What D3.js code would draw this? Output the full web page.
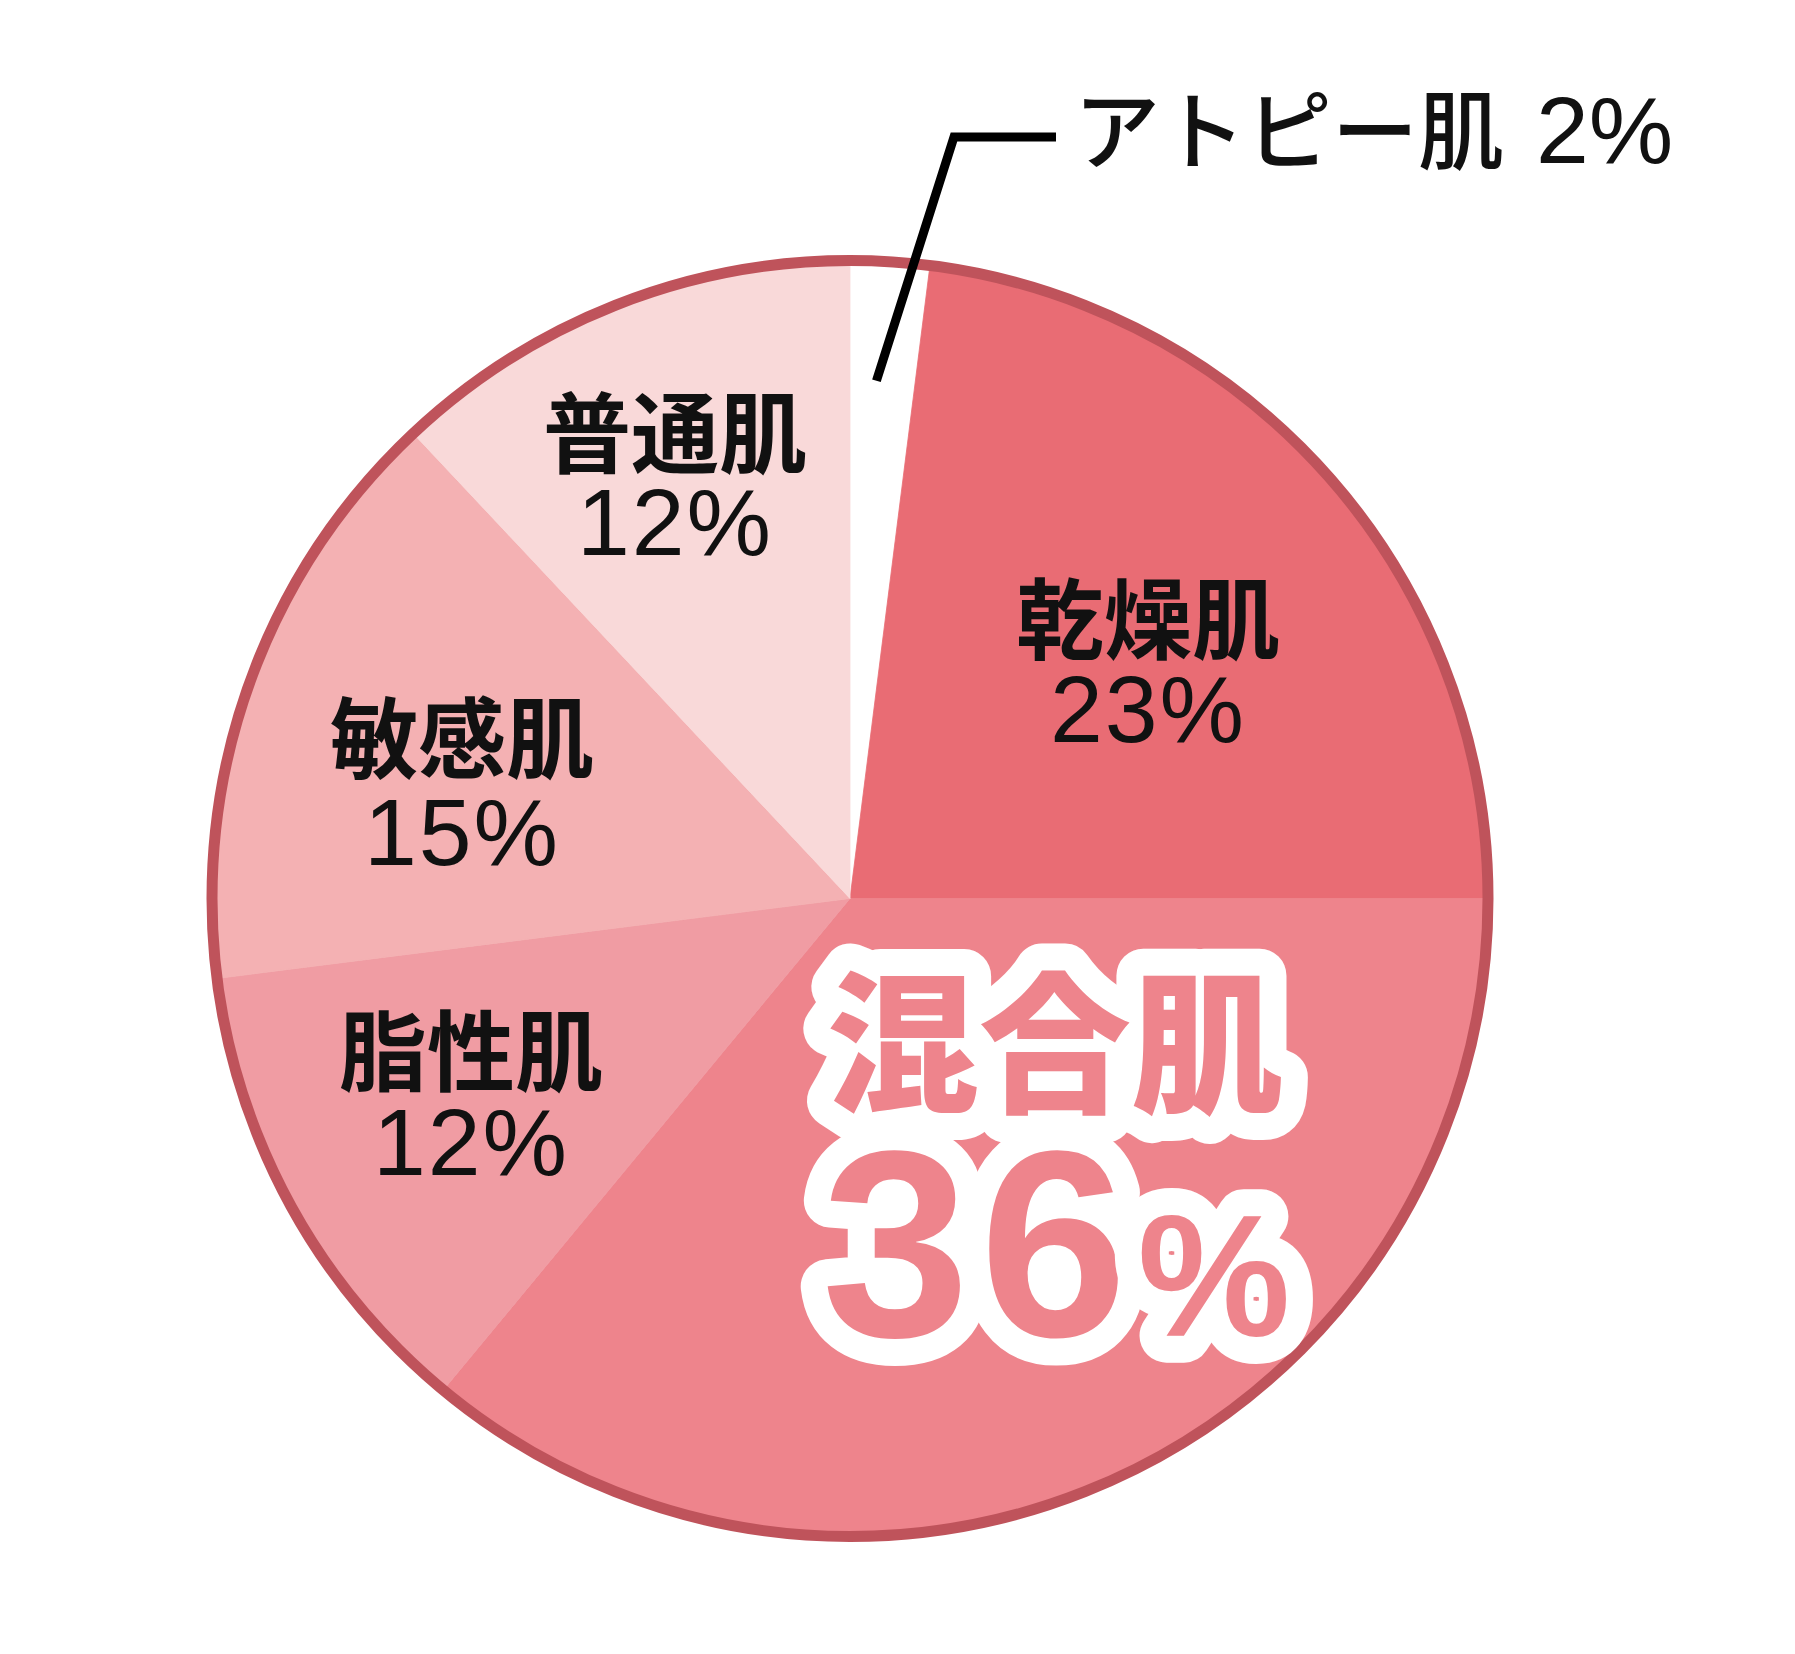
<!DOCTYPE html>
<html>
<head>
<meta charset="utf-8">
<script src="https://cdn.jsdelivr.net/npm/d3@7"></script>
<style>
  html, body { margin: 0; padding: 0; background: #ffffff; }
  svg { display: block; }
</style>
</head>
<body>
<svg id="chart" width="1795" height="1654"></svg>
<script>
// ---- data ----
const categories = ["アトピー肌", "乾燥肌", "混合肌", "脂性肌", "敏感肌", "普通肌"];
const values = [2, 23, 36, 12, 15, 12];
const percentLabels = ["2%", "23%", "36%", "12%", "15%", "12%"];
const sliceColors = ["#ffffff", "#E96C74", "#EE848C", "#F09CA3", "#F4B1B3", "#F9D9D9"];

// ---- layout ----
const W = 1795, H = 1654;
const cx = 850, cy = 898.5, R = 638;
const cjkFont = "'Noto Sans CJK JP', 'Noto Sans CJK SC', sans-serif";
const numFont = "'Liberation Sans', Arial, sans-serif";

// label placement (centre x, baseline of name line, baseline of percent line)
const labelLayout = {
  "乾燥肌": { x: 1148, y1: 652, y2: 742 },
  "脂性肌": { x: 471, y1: 1084, y2: 1175 },
  "敏感肌": { x: 462, y1: 771, y2: 865 },
  "普通肌": { x: 675, y1: 466, y2: 555 }
};

const svg = d3.select("#chart");
svg.append("rect").attr("width", W).attr("height", H).attr("fill", "#fff");

const data = categories.map((c, i) => ({ name: c, value: values[i], pct: percentLabels[i], color: sliceColors[i] }));

const pie = d3.pie().sort(null).value(d => d.value).startAngle(0).endAngle(2 * Math.PI);
const arcs = pie(data);
const arc = d3.arc().innerRadius(0).outerRadius(R);

const g = svg.append("g").attr("transform", `translate(${cx},${cy})`);

g.selectAll("path.slice")
  .data(arcs)
  .join("path")
  .attr("class", "slice")
  .attr("d", arc)
  .attr("fill", d => d.data.color)
  .attr("stroke", d => d.data.color)
  .attr("stroke-width", 0.8);

// outer ring
g.append("circle")
  .attr("r", R)
  .attr("fill", "none")
  .attr("stroke", "#BF535B")
  .attr("stroke-width", 11);

// regular labels: one text element, two lines
arcs.forEach(a => {
  const L = labelLayout[a.data.name];
  if (!L) return;
  const t = svg.append("text")
    .attr("text-anchor", "middle")
    .attr("fill", "#111");
  t.append("tspan")
    .attr("x", L.x).attr("y", L.y1)
    .attr("font-family", cjkFont)
    .attr("font-weight", 700)
    .attr("font-size", 88)
    .text(a.data.name);
  t.append("tspan")
    .attr("x", L.x).attr("y", L.y2)
    .attr("font-family", numFont)
    .attr("font-size", 95)
    .attr("letter-spacing", 2)
    .text(a.data.pct);
});

// highlighted label (largest slice): pink text with a thick white outline
const big = arcs.reduce((m, a) => (a.data.value > m.data.value ? a : m), arcs[0]);
const bigG = svg.append("g")
  .attr("fill", big.data.color)
  .attr("stroke", "#fff")
  .attr("stroke-width", 54)
  .attr("stroke-linejoin", "round")
  .attr("stroke-linecap", "round")
  .style("paint-order", "stroke fill");

bigG.append("text")
  .attr("x", 1055).attr("y", 1101)
  .attr("text-anchor", "middle")
  .attr("font-family", cjkFont).attr("font-weight", 900)
  .attr("font-size", 152)
  .text(big.data.name);

const bt = bigG.append("text")
  .attr("x", 1056).attr("y", 1336)
  .attr("text-anchor", "middle")
  .attr("font-family", numFont).attr("font-weight", 700);
bt.append("tspan").attr("font-size", 266).attr("letter-spacing", 10).text(big.data.pct.replace("%", ""));
bt.append("tspan").attr("font-size", 172).text("%");

// leader label for the smallest slice
const small = arcs[0];
const leaderArc = d3.arc().innerRadius(R * 0.81).outerRadius(R * 0.81);
const [sx, sy] = leaderArc.centroid(small);
const p0 = [cx + sx - 6, cy + sy - 2];
const p1 = [954, 137];
const p2 = [1056, 137];
svg.append("path")
  .attr("d", d3.line()([p0, p1, p2]))
  .attr("fill", "none")
  .attr("stroke", "#000")
  .attr("stroke-width", 9)
  .attr("stroke-linejoin", "miter");

const lt = svg.append("text")
  .attr("x", 1074).attr("y", 163)
  .attr("font-family", cjkFont)
  .attr("font-weight", 500)
  .attr("fill", "#111");
lt.append("tspan").attr("font-size", 86).text(small.data.name);
lt.append("tspan").attr("font-family", numFont).attr("font-size", 95).attr("dx", 32).text(small.data.pct);
</script>
</body>
</html>
